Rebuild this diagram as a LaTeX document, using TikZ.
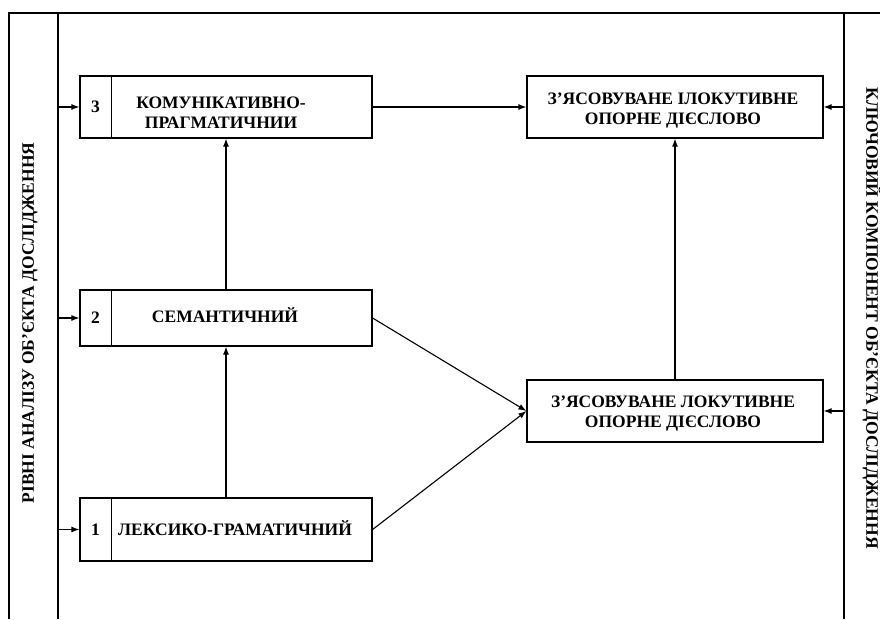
\documentclass[tikz,border=0pt]{standalone}
\usepackage{fontspec}
\setmainfont{Liberation Serif}
\usetikzlibrary{arrows.meta}

\begin{document}
\begin{tikzpicture}[x=1pt, y=-1pt,
		lvlbox/.style={draw, line width=1.2pt, minimum width=292pt, inner sep=0pt},
		verbbox/.style={draw, line width=1.2pt, minimum width=296pt, minimum height=62pt, inner sep=0pt, align=center},
		lbl/.style={font=\fontsize{17.5}{20}\selectfont\bfseries, align=center, inner sep=0pt},
		sidelbl/.style={font=\fontsize{17.5}{20}\selectfont\bfseries, inner sep=0pt},
		arr/.style={-{Latex[length=8pt,width=6pt]}, line width=1.1pt}]
		%%%%% START %%%%%
		
		\useasboundingbox (0, 0) rectangle (880, 619);
		
		\draw[line width=1.1pt] (9, 619) -- (9, 13) -- (880, 13);
		\draw[line width=1.1pt] (58, 13) -- (58, 619);
		\draw[line width=1.1pt] (844, 13) -- (844, 619);
		\coordinate (lft) at (58, 0);
		\coordinate (rgt) at (844, 0);
		
		\node[sidelbl, rotate=90] (side1) at (30, 323) {РІВНІ АНАЛІЗУ ОБ’ЄКТА ДОСЛІДЖЕННЯ};
		\node[sidelbl, rotate=-90] (side2) at (872, 318) {КЛЮЧОВИЙ КОМПОНЕНТ ОБ’ЄКТА ДОСЛІДЖЕННЯ};
		
		% levels
		\node[lvlbox, minimum height=62pt] (l3) at (226, 107) {};
		\node[lvlbox, minimum height=56pt] (l2) at (226, 318) {};
		\node[lvlbox, minimum height=63pt] (l1) at (226, 529.5) {};
		\foreach \k in {1,2,3} {
			\draw[line width=1.2pt] ([xshift=32pt]l\k.north west) -- ([xshift=32pt]l\k.south west);
			\node[lbl] (n\k) at ([xshift=16pt]l\k.west) {\k};
			\draw[arr] (lft |- l\k.west) -- (l\k.west);
		}
		\node[lbl] (t3) at (221, 113) {КОМУНІКАТИВНО-\\ПРАГМАТИЧНИИ};
		\node[lbl] (t2) at (225, 315) {СЕМАНТИЧНИЙ};
		\node[lbl] (t1) at (235, 528) {ЛЕКСИКО-ГРАМАТИЧНИЙ};
		
		% verbs
		\node[verbbox] (il) at (675, 107) {};
		\node[lbl] (ti) at (673, 111) {З’ЯСОВУВАНЕ ІЛОКУТИВНЕ\\ОПОРНЕ ДІЄСЛОВО};
		\node[verbbox] (lk) at (675, 411) {};
		\node[lbl] (tl) at (673, 414) {З’ЯСОВУВАНЕ ЛОКУТИВНЕ\\ОПОРНЕ ДІЄСЛОВО};
		\draw[arr] (rgt |- il.east) -- (il.east);
		\draw[arr] (rgt |- lk.east) -- (lk.east);
		
		\draw[arr] (l1.north) -- (l2.south);
		\draw[arr] (l2.north) -- (l3.south);
		\draw[arr] (l3.east) -- (il.west);
		\draw[arr] (l2.east) -- (lk.west);
		\draw[arr] (l1.east) -- (lk.west);
		\draw[arr] (lk.north) -- (il.south);
		
		%%%%% END %%%%%
\end{tikzpicture}
\end{document}
